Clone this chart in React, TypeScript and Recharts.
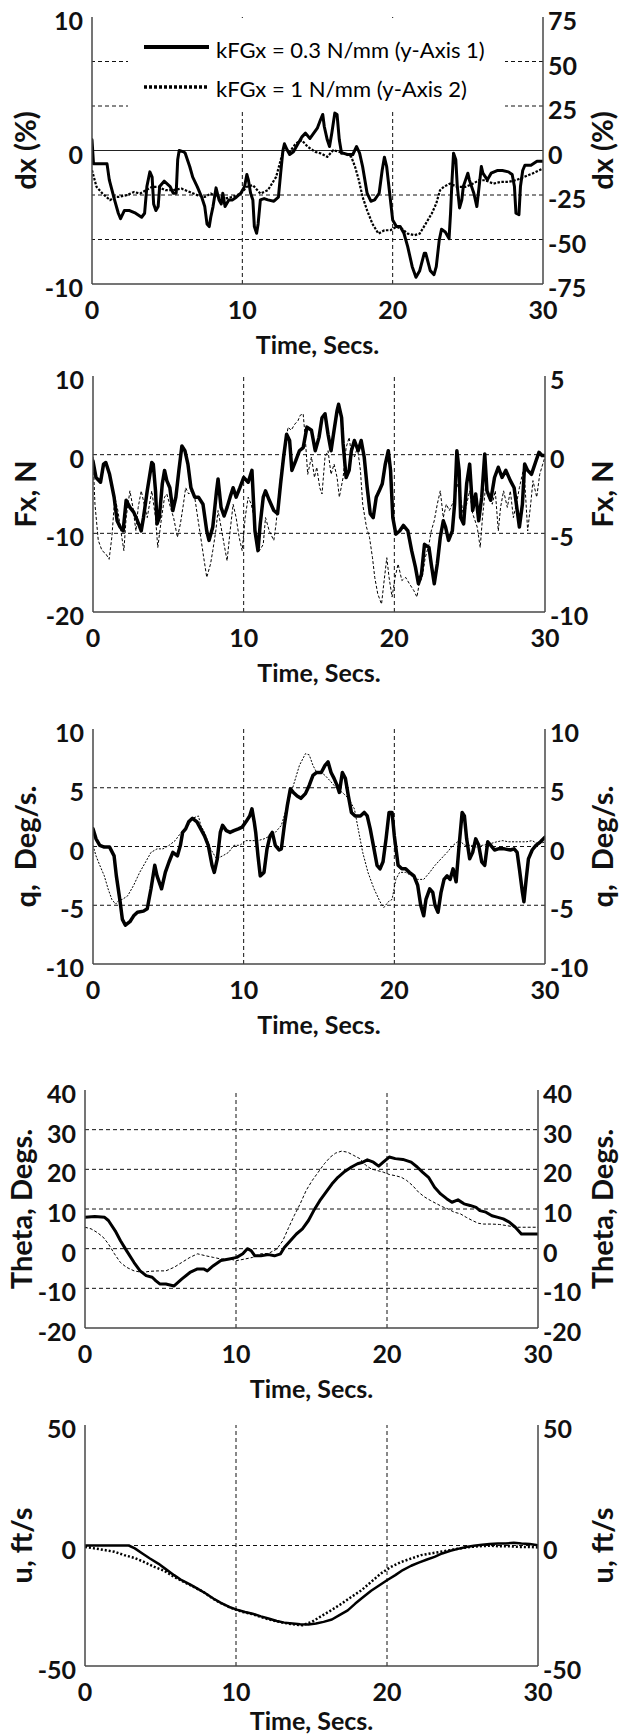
import React from "react";
import { LineChart, Line, XAxis, YAxis, ReferenceLine, Legend, Label } from "recharts";

// ---------- DATA (time in s, value) ----------
const timeTicks = [0, 10, 20, 30];
const verticalGrid = [10, 20];

const legendNames = ["kFGx = 0.3 N/mm (y-Axis 1)", "kFGx = 1 N/mm (y-Axis 2)"];

// Panel 1: dx (%)
const dxTicksLeft = [-10, 0, 10];
const dxTicksRight = [-75, -50, -25, 0, 25, 50, 75];
const dxGridRight = [-50, -25, 25, 50];
const dxK03: number[][] = [
  [0, 0.8], [0.1, -1], [0.3, -1], [1.0, -1], [1.15, -2.2], [1.5, -3.7], [1.75, -4.7], [1.9, -5.1], [2.15, -4.5], [2.5, -4.5],
  [2.9, -4.7], [3.3, -5.0], [3.5, -4.7], [3.65, -2.7], [3.85, -1.6], [4.0, -2.0], [4.1, -4.0], [4.25, -4.5], [4.4, -4.2], [4.5, -2.7],
  [4.8, -2.3], [5.0, -2.5], [5.2, -2.7], [5.4, -3.2], [5.6, -3.2], [5.7, -0.7], [5.8, 0.0], [6.1, -0.1], [6.2, -0.2], [6.5, -1.2],
  [6.7, -2.0], [7.0, -2.7], [7.3, -3.5], [7.5, -4.2], [7.65, -5.5], [7.8, -5.7], [7.9, -5.0], [8.05, -4.2], [8.25, -2.8], [8.45, -3.7],
  [8.6, -4.0], [8.7, -3.2], [8.85, -4.2], [9.1, -3.7], [9.35, -3.7], [9.6, -3.5], [9.9, -3.2], [10.15, -2.7], [10.3, -1.8], [10.4, -2.2],
  [10.55, -3.2], [10.7, -3.7], [10.8, -5.7], [10.95, -6.2], [11.05, -5.5], [11.2, -3.7], [11.45, -3.6], [11.7, -3.7], [12.1, -3.8], [12.4, -3.5],
  [12.55, -1.7], [12.7, 0.0], [12.8, 0.5], [13.0, 0.0], [13.15, -0.3], [13.4, -0.1], [13.7, 0.5], [13.95, 1.0], [14.2, 1.3], [14.5, 0.9],
  [14.75, 1.3], [15.0, 1.7], [15.2, 2.3], [15.35, 2.7], [15.45, 1.8], [15.65, 0.8], [15.8, 0.3], [15.95, 1.3], [16.15, 2.8], [16.3, 2.7],
  [16.45, 0.8], [16.6, -0.2], [16.7, -0.2], [17.0, -0.3], [17.35, -0.3], [17.6, 0.3], [17.8, -0.2], [18.0, -1.2], [18.3, -3.2], [18.55, -3.8],
  [18.8, -3.7], [19.1, -3.2], [19.3, -1.5], [19.45, -0.5], [19.6, -1.2], [19.7, -2.2], [19.85, -3.7], [20.0, -5.2], [20.25, -5.7], [20.5, -5.7],
  [20.75, -6.2], [21.0, -7.2], [21.3, -8.7], [21.55, -9.5], [21.8, -9.0], [22.1, -7.7], [22.2, -7.7], [22.5, -9.0], [22.75, -9.3], [22.9, -8.7],
  [23.1, -6.7], [23.25, -5.9], [23.5, -6.1], [23.75, -6.6], [23.85, -4.7], [23.95, -2.2], [24.05, -0.2], [24.2, -0.7], [24.3, -2.7], [24.45, -4.3],
  [24.6, -3.7], [24.7, -2.7], [24.85, -2.2], [25.0, -1.7], [25.1, -2.2], [25.4, -3.2], [25.6, -4.2], [25.75, -2.7], [25.9, -1.2], [26.0, -1.7],
  [26.3, -2.2], [26.55, -1.7], [26.95, -1.5], [27.3, -1.5], [27.7, -1.6], [27.95, -1.8], [28.1, -2.7], [28.2, -4.7], [28.4, -4.8], [28.5, -2.7],
  [28.65, -1.5], [28.8, -1.1], [29.2, -1.1], [29.6, -0.8], [30, -0.8],
];
const dxK1: number[][] = [
  [0, -11.1], [0.3, -20.4], [0.7, -24.2], [1.2, -27.9], [1.5, -26.1], [1.75, -26.1], [2.3, -25.1], [2.8, -23.3], [3.2, -24.2], [3.6, -22.3],
  [4.0, -20.4], [4.4, -20.4], [4.9, -22.3], [5.4, -22.3], [5.95, -21.4], [6.5, -23.3], [7.0, -25.1], [7.5, -26.1], [7.9, -24.2], [8.3, -26.1],
  [8.85, -27.0], [9.35, -26.1], [9.9, -24.2], [10.3, -20.4], [10.7, -19.5], [11.2, -24.2], [11.7, -22.3], [12.25, -14.8], [12.55, -5.4], [12.8, 2.1],
  [13.15, -0.8], [13.55, 3.9], [13.95, 5.8], [14.35, 2.1], [14.85, -0.8], [15.25, -1.7], [15.65, -3.6], [16.05, 0.2], [16.45, -0.8], [16.85, -1.7],
  [17.25, -3.6], [17.5, -9.2], [17.75, -16.7], [18.0, -26.1], [18.3, -33.6], [18.65, -41.1], [19.05, -46.7], [19.45, -44.8], [19.85, -44.8], [20.25, -42.9],
  [20.6, -43.9], [21.0, -46.7], [21.45, -47.6], [21.8, -46.7], [22.2, -41.1], [22.6, -35.4], [22.9, -29.8], [23.15, -22.3], [23.4, -20.4], [23.8, -18.6],
  [24.3, -20.4], [24.85, -20.4], [25.35, -18.6], [25.75, -16.7], [26.15, -16.7], [26.7, -18.6], [27.2, -17.6], [27.7, -17.6], [28.2, -16.7], [28.75, -14.8],
  [29.3, -12.9], [30, -10.1],
];

// Panel 2: Fx, N
const fxTicksLeft = [-20, -10, 0, 10];
const fxTicksRight = [-10, -5, 0, 5];
const fxGridLeft = [-10, 0];
const fxK03: number[][] = [
  [0, -0.8], [0.2, -2.9], [0.5, -3.5], [0.7, -1.2], [0.85, -1.0], [1.1, -2.5], [1.4, -5.4], [1.6, -8.4], [1.8, -9.2], [2.0, -9.7],
  [2.2, -5.8], [2.45, -6.7], [2.7, -7.3], [2.95, -8.4], [3.2, -9.7], [3.35, -8.0], [3.6, -4.6], [3.9, -1.0], [4.0, -1.2], [4.15, -4.6],
  [4.25, -8.8], [4.4, -8.0], [4.6, -3.7], [4.75, -2.0], [4.9, -3.3], [5.1, -4.2], [5.3, -7.1], [5.5, -5.4], [5.7, -2.0], [5.9, 1.1],
  [6.1, 0.5], [6.3, -1.2], [6.5, -4.2], [6.75, -5.4], [7.0, -5.4], [7.3, -6.3], [7.55, -9.7], [7.7, -10.9], [7.95, -9.2], [8.2, -4.6],
  [8.3, -3.1], [8.5, -6.7], [8.7, -7.8], [8.9, -6.7], [9.1, -5.4], [9.3, -4.2], [9.5, -5.4], [9.75, -4.2], [10.0, -2.9], [10.3, -3.5],
  [10.55, -2.0], [10.75, -9.7], [10.95, -12.2], [11.1, -8.8], [11.3, -5.4], [11.45, -4.6], [11.7, -5.8], [12.0, -7.1], [12.25, -7.5], [12.45, -3.7],
  [12.65, -0.3], [12.85, 2.6], [13.05, 1.8], [13.2, -2.0], [13.45, -0.8], [13.7, 0.5], [13.95, 0.9], [14.2, 3.5], [14.5, 3.1], [14.75, 0.5],
  [15.0, 2.2], [15.2, 4.7], [15.4, 5.2], [15.6, 2.6], [15.8, 0.5], [16.0, 3.1], [16.2, 5.6], [16.3, 6.4], [16.5, 4.7], [16.6, 1.4],
  [16.8, -2.9], [17.0, -2.0], [17.15, 0.5], [17.35, 1.8], [17.6, 0.5], [17.8, 1.8], [18.0, -0.3], [18.2, -4.2], [18.4, -7.5], [18.6, -8.0],
  [18.8, -5.4], [19.0, -4.6], [19.2, -3.7], [19.4, -1.2], [19.6, 0.5], [19.75, -2.0], [19.9, -8.0], [20.1, -10.1], [20.35, -9.7], [20.6, -9.0],
  [20.9, -9.7], [21.15, -12.2], [21.4, -14.3], [21.6, -16.4], [21.8, -15.2], [22.0, -11.4], [22.3, -11.8], [22.45, -13.9], [22.65, -16.4], [22.85, -13.9],
  [23.05, -10.5], [23.25, -8.4], [23.4, -9.2], [23.6, -10.9], [23.85, -9.7], [24.0, -6.3], [24.15, 0.5], [24.3, -2.0], [24.4, -8.0], [24.6, -8.8],
  [24.8, -3.7], [25.0, -1.2], [25.2, -7.1], [25.4, -5.0], [25.6, -8.4], [25.8, -5.4], [26.0, 0.1], [26.15, -4.6], [26.4, -5.8], [26.65, -2.9],
  [26.9, -1.6], [27.15, -2.9], [27.4, -2.0], [27.7, -3.3], [27.95, -4.2], [28.1, -6.3], [28.3, -9.2], [28.5, -6.3], [28.65, -1.2], [28.85, -2.0],
  [29.1, -2.5], [29.4, -0.8], [29.6, 0.3], [29.8, -0.1], [30, -0.1],
];
const fxK1: number[][] = [
  [0, -0.15], [0.13, -3.15], [0.35, -5.45], [0.6, -6.1], [0.85, -6.3], [1.07, -6.65], [1.25, -5.25], [1.45, -2.7], [1.65, -3.55], [1.85, -4.85],
  [2.05, -6.1], [2.2, -4.0], [2.45, -2.3], [2.65, -3.35], [2.85, -4.85], [3.0, -3.35], [3.2, -2.3], [3.4, -3.15], [3.6, -4.0], [3.9, -2.3],
  [4.15, -4.0], [4.3, -5.9], [4.55, -4.0], [4.75, -2.7], [4.9, -2.5], [5.2, -3.55], [5.35, -4.0], [5.6, -5.25], [5.8, -4.4], [6.0, -3.15],
  [6.15, -2.1], [6.35, -2.5], [6.55, -2.3], [6.75, -2.7], [6.95, -4.0], [7.15, -5.25], [7.35, -6.55], [7.55, -7.8], [7.8, -6.95], [7.95, -6.1],
  [8.15, -4.85], [8.3, -3.55], [8.5, -4.6], [8.7, -5.7], [8.9, -6.75], [9.1, -4.85], [9.3, -3.15], [9.5, -4.0], [9.7, -5.25], [9.9, -6.1],
  [10.1, -4.0], [10.3, -2.7], [10.5, -3.15], [10.7, -4.0], [10.85, -5.25], [11.05, -6.1], [11.3, -5.7], [11.45, -4.0], [11.7, -4.85], [12.0, -5.45],
  [12.15, -4.4], [12.4, -1.85], [12.6, -0.15], [12.8, 0.9], [12.95, 1.75], [13.15, 1.55], [13.4, 1.95], [13.6, 2.15], [13.75, 2.5], [13.95, 2.6],
  [14.1, 0.9], [14.25, -1.25], [14.5, -0.15], [14.7, -1.45], [14.85, -0.8], [15.05, -2.1], [15.2, -2.5], [15.4, -0.15], [15.6, 0.25], [15.8, -1.25],
  [16.0, -0.6], [16.2, -1.45], [16.35, -2.7], [16.6, -1.45], [16.8, 0.45], [17.0, 1.1], [17.15, 0.05], [17.35, -0.15], [17.55, 0.45], [17.75, -1.0],
  [17.9, -3.15], [18.15, -4.6], [18.35, -5.25], [18.55, -6.55], [18.7, -7.8], [18.9, -8.85], [19.15, -9.5], [19.3, -8.2], [19.5, -6.55], [19.65, -7.8],
  [19.85, -9.05], [20.05, -7.8], [20.25, -6.95], [20.5, -8.0], [20.75, -7.8], [21.0, -8.2], [21.3, -8.65], [21.5, -9.05], [21.65, -8.2], [21.85, -7.8],
  [22.05, -6.55], [22.3, -5.7], [22.45, -4.85], [22.65, -4.2], [22.85, -3.15], [23.05, -2.3], [23.25, -4.0], [23.45, -3.15], [23.65, -3.55], [23.85, -3.15],
  [24.0, -2.7], [24.2, -1.85], [24.4, -2.7], [24.6, -4.0], [24.8, -3.15], [25.0, -2.3], [25.2, -3.75], [25.5, -4.6], [25.7, -5.9], [25.85, -4.0],
  [26.05, -2.1], [26.25, -2.7], [26.5, -3.15], [26.7, -2.3], [26.9, -4.85], [27.05, -3.35], [27.25, -2.3], [27.5, -3.35], [27.7, -2.3], [27.9, -4.0],
  [28.1, -3.15], [28.3, -2.1], [28.6, -0.8], [28.85, -4.85], [29.05, -3.15], [29.2, -1.65], [29.45, -2.7], [29.65, -1.25], [29.85, -0.6], [30, -0.15],
];

// Panel 3: q, Deg/s
const qTicks = [-10, -5, 0, 5, 10];
const qGrid = [-5, 0, 5];
const qK03: number[][] = [
  [0, 1.5], [0.2, 0.65], [0.45, 0.1], [0.75, -0.05], [1.1, -0.05], [1.4, -0.8], [1.55, -2.5], [1.8, -4.7], [1.95, -6.2], [2.15, -6.7],
  [2.45, -6.4], [2.7, -5.9], [2.95, -5.6], [3.35, -5.5], [3.6, -5.3], [3.85, -3.6], [4.1, -1.6], [4.25, -2.5], [4.55, -3.6], [4.8, -2.2],
  [5.05, -1.3], [5.3, -0.5], [5.6, -0.8], [5.8, 0.1], [5.95, 1.2], [6.15, 1.5], [6.35, 2.1], [6.6, 2.4], [6.9, 2.1], [7.15, 1.5],
  [7.4, 0.9], [7.65, 0.1], [7.9, -1.6], [8.05, -2.2], [8.25, -1.05], [8.45, 1.2], [8.6, 1.8], [8.85, 1.35], [9.1, 1.2], [9.35, 1.35],
  [9.65, 1.5], [9.9, 1.65], [10.15, 2.1], [10.4, 2.6], [10.55, 3.2], [10.7, 2.1], [10.8, 1.2], [10.95, -0.8], [11.1, -2.5], [11.35, -2.2],
  [11.55, -0.2], [11.75, 0.9], [11.9, 1.2], [12.1, 0.1], [12.35, -0.3], [12.5, -0.2], [12.7, 1.8], [12.9, 3.5], [13.1, 4.9], [13.3, 4.6],
  [13.55, 4.3], [13.8, 4.1], [14.1, 4.5], [14.35, 5.2], [14.6, 6.05], [14.85, 6.3], [15.15, 6.3], [15.4, 6.9], [15.6, 7.2], [15.8, 6.3],
  [16.0, 5.8], [16.2, 5.2], [16.35, 4.6], [16.55, 6.3], [16.75, 5.8], [16.95, 4.3], [17.15, 2.9], [17.4, 2.6], [17.75, 2.6], [18.0, 2.9],
  [18.2, 2.6], [18.4, 1.5], [18.65, -0.2], [18.85, -1.6], [19.05, -1.9], [19.25, -1.3], [19.45, 0.65], [19.65, 2.9], [19.85, 2.9], [20.0, 0.9],
  [20.25, -1.6], [20.5, -1.9], [20.75, -1.9], [21.0, -2.2], [21.3, -2.5], [21.55, -3.3], [21.75, -5.0], [21.95, -5.9], [22.1, -4.5], [22.35, -3.6],
  [22.55, -3.9], [22.7, -5.0], [22.9, -5.6], [23.1, -3.9], [23.3, -2.8], [23.5, -2.5], [23.7, -2.8], [23.9, -1.9], [24.1, -3.0], [24.3, 0.1],
  [24.5, 2.9], [24.65, 2.6], [24.8, 0.65], [25.0, -1.05], [25.2, -0.5], [25.4, 0.65], [25.6, 0.1], [25.8, -1.3], [26.0, -1.6], [26.2, 0.4],
  [26.4, 0.1], [26.65, -0.3], [26.9, -0.2], [27.3, -0.2], [27.7, -0.3], [27.95, -0.2], [28.15, -0.5], [28.3, -1.9], [28.5, -3.9], [28.6, -4.7],
  [28.75, -2.8], [28.9, -1.05], [29.15, -0.3], [29.4, 0.1], [29.7, 0.4], [30, 0.8],
];
const qK1: number[][] = [
  [0, 0.1], [0.2, -0.8], [0.45, -1.6], [0.75, -2.5], [1.0, -3.6], [1.25, -4.5], [1.5, -4.9], [1.7, -4.6], [1.95, -4.5], [2.3, -4.2],
  [2.7, -3.3], [3.1, -2.2], [3.5, -1.3], [3.85, -0.5], [4.25, -0.2], [4.65, -0.2], [5.05, 0.1], [5.45, 0.5], [5.85, 1.2], [6.25, 1.65],
  [6.6, 2.4], [7.0, 2.6], [7.15, 1.8], [7.4, 1.2], [7.8, -0.2], [8.2, -1.05], [8.6, -0.8], [9.0, -0.5], [9.35, 0.1], [9.75, 0.1],
  [10.15, 0.5], [10.55, 0.5], [10.95, 0.5], [11.35, 0.65], [11.75, 0.9], [12.1, 1.2], [12.5, 1.8], [12.9, 3.5], [13.3, 5.2], [13.7, 6.9],
  [14.1, 7.9], [14.35, 7.8], [14.6, 6.9], [14.85, 6.3], [15.15, 6.3], [15.4, 6.05], [15.8, 5.5], [16.2, 4.9], [16.55, 4.6], [16.95, 4.1],
  [17.35, 3.2], [17.6, 1.5], [17.9, -0.5], [18.25, -2.2], [18.65, -3.6], [19.05, -4.7], [19.3, -5.2], [19.6, -4.7], [19.85, -4.5], [20.1, -2.8],
  [20.35, -2.2], [20.75, -2.2], [21.15, -2.5], [21.55, -2.8], [21.95, -2.8], [22.35, -2.2], [22.7, -1.6], [23.1, -1.05], [23.5, -0.5], [23.9, 0.1],
  [24.3, 0.5], [24.7, 0.1], [25.1, 0.1], [25.45, -0.05], [25.85, 0.1], [26.25, 0.2], [26.8, 0.4], [27.2, 0.5], [27.55, 0.4], [27.95, 0.4],
  [28.35, 0.4], [28.75, 0.4], [29.15, 0.5], [29.55, 0.2], [30, 0.4],
];

// Panel 4: Theta, Degs.
const thetaTicks = [-20, -10, 0, 10, 20, 30, 40];
const thetaGrid = [-10, 0, 10, 20, 30];
const thetaK03: number[][] = [
  [0, 7.9], [0.65, 8.1], [1.3, 7.9], [1.55, 7.1], [2.0, 4.5], [2.35, 2.0], [2.75, -0.5], [3.25, -3.5], [3.65, -5.6], [4.05, -6.8],
  [4.45, -7.2], [4.7, -8.1], [4.95, -8.9], [5.35, -8.9], [5.9, -9.4], [6.4, -7.7], [6.95, -6.0], [7.45, -5.1], [7.85, -5.1], [8.1, -5.6],
  [8.5, -4.3], [9.0, -3.0], [9.55, -2.6], [10.05, -2.2], [10.45, -1.3], [10.75, 0], [11.0, -0.5], [11.25, -1.8], [11.65, -1.8], [12.15, -1.5],
  [12.55, -1.8], [12.95, -1.3], [13.2, 0.3], [13.6, 2.0], [14.0, 3.7], [14.4, 5.0], [14.8, 7.1], [15.15, 9.6], [15.55, 12.1], [15.95, 14.2],
  [16.35, 16.3], [16.75, 18.0], [17.15, 19.3], [17.65, 20.6], [18.05, 21.4], [18.4, 21.8], [18.7, 22.4], [19.1, 21.8], [19.45, 20.8], [19.75, 21.8],
  [20.15, 23.1], [20.55, 22.7], [21.05, 22.5], [21.6, 21.8], [22.0, 20.6], [22.35, 19.3], [22.75, 18.0], [23.15, 15.5], [23.55, 13.8], [23.95, 12.6],
  [24.3, 11.7], [24.7, 12.3], [25.1, 11.3], [25.5, 10.9], [25.9, 10.4], [26.15, 9.6], [26.55, 9.2], [26.95, 8.3], [27.35, 7.9], [27.7, 7.5],
  [28.1, 6.7], [28.5, 5.4], [28.9, 3.7], [29.3, 3.7], [30, 3.7],
];
const thetaK1: number[][] = [
  [0, 5.4], [0.4, 5.0], [0.8, 4.1], [1.2, 2.9], [1.55, 1.2], [1.95, -1.3], [2.35, -3.5], [2.75, -4.7], [3.25, -5.6], [3.8, -6.0],
  [4.3, -5.7], [4.85, -5.6], [5.35, -5.6], [5.9, -4.7], [6.4, -3.5], [6.95, -2.2], [7.45, -1.3], [8.0, -1.8], [8.5, -2.2], [9.0, -2.6],
  [9.55, -2.6], [10.05, -3.0], [10.6, -2.6], [11.1, -2.2], [11.65, -1.3], [12.15, -1.2], [12.7, -0.1], [13.1, 2.0], [13.45, 5.0], [13.85, 8.3],
  [14.25, 11.3], [14.65, 14.7], [15.05, 17.2], [15.45, 19.3], [15.85, 21.4], [16.25, 23.1], [16.6, 24.1], [17.0, 24.6], [17.4, 24.3], [17.8, 23.5],
  [18.2, 22.7], [18.6, 21.0], [18.95, 20.1], [19.35, 19.7], [19.75, 19.3], [20.15, 18.7], [20.55, 18.4], [20.95, 18.0], [21.3, 17.2], [21.7, 15.9],
  [22.1, 14.2], [22.5, 13.0], [22.9, 12.1], [23.3, 11.3], [23.65, 10.6], [24.05, 10.0], [24.45, 9.2], [24.85, 8.8], [25.25, 7.9], [25.65, 7.1],
  [26.05, 6.4], [26.4, 6.2], [26.95, 6.2], [27.45, 6.1], [27.95, 5.8], [28.5, 5.4], [28.9, 5.4], [29.4, 5.4], [30, 5.4],
];

// Panel 5: u, ft/s
const uTicks = [-50, 0, 50];
const uGrid = [0];
const uK03: number[][] = [
  [0, 0], [1.2, 0], [2.2, 0], [2.9, 0], [3.3, -1.2], [3.8, -3.3], [4.3, -5.4], [4.85, -7.5], [5.35, -9.8], [5.9, -12.3],
  [6.4, -14.4], [6.95, -16.1], [7.45, -17.9], [8.0, -19.9], [8.5, -22.0], [9.0, -23.8], [9.55, -25.5], [10.05, -26.6], [10.6, -27.6], [11.1, -28.3],
  [11.65, -29.4], [12.15, -30.3], [12.7, -31.3], [13.2, -32.0], [13.75, -32.4], [14.25, -32.7], [14.8, -32.8], [15.3, -32.4], [15.8, -31.7], [16.35, -30.7],
  [16.85, -28.9], [17.4, -26.9], [17.9, -24.1], [18.45, -21.3], [18.95, -18.8], [19.5, -16.5], [20.0, -14.4], [20.55, -12.3], [21.05, -10.2], [21.6, -8.4],
  [22.1, -7.1], [22.65, -5.8], [23.15, -4.7], [23.65, -3.3], [24.2, -2.2], [24.7, -1.4], [25.25, -0.6], [25.75, -0.1], [26.3, 0.3], [26.8, 0.6],
  [27.35, 0.8], [27.85, 0.8], [28.4, 1.1], [28.9, 0.8], [29.45, 0.6], [30, 0.1],
];
const uK1: number[][] = [
  [0, -0.6], [0.65, -1.2], [1.3, -1.9], [1.95, -2.6], [2.6, -4.0], [3.25, -5.1], [3.9, -6.8], [4.6, -8.9], [5.25, -10.5], [5.9, -13.0],
  [6.55, -15.1], [7.2, -17.2], [7.85, -19.3], [8.5, -22.2], [9.15, -24.4], [9.8, -26.2], [10.45, -27.6], [11.1, -28.5], [11.75, -29.9], [12.4, -31.0],
  [13.1, -32.0], [13.75, -32.7], [14.4, -33.1], [15.05, -31.6], [15.7, -29.1], [16.35, -26.7], [17.0, -24.1], [17.65, -21.3], [18.3, -18.6], [18.95, -15.1],
  [19.6, -11.6], [20.25, -8.9], [20.95, -6.8], [21.6, -5.4], [22.25, -4.0], [22.9, -3.3], [23.55, -2.6], [24.2, -1.9], [24.85, -1.2], [25.5, -0.6],
  [26.15, -0.3], [26.8, -0.1], [27.45, -0.3], [28.1, -0.3], [28.75, -0.6], [29.4, -0.6], [30, -0.8],
];

// ---------- RENDERING ----------
const W = 619;
const FONT = "Lato, 'Open Sans', sans-serif";
const tickStyle: React.CSSProperties = { fontFamily: FONT, fontWeight: 700, fontSize: 25, fill: "#111" };
const FRAME = "#474747";

const toPts = (arr: number[][]) => arr.map(([t, v]) => ({ t, v }));

const LeftTick = (p: any) => (
  <text x={p.x - 9} y={p.y + 4} dy="0.36em" textAnchor="end" style={tickStyle}>{p.payload.value}</text>
);
const RightTick = (p: any) => (
  <text x={p.x + 5} y={p.y + 4} dy="0.36em" textAnchor="start" style={tickStyle}>{p.payload.value}</text>
);
const BottomTick = (p: any) => (
  <text x={p.x} y={p.y + 26} dy="0.36em" textAnchor="middle" style={tickStyle}>{p.payload.value}</text>
);

type Series = { data: number[][]; axis: "L" | "R"; width: number; dash?: string; name: string };

type PanelProps = {
  plotLeft: number; plotRight: number; plotTop: number; plotBottom: number;
  leftDomain: number[]; leftTicks: number[]; rightDomain: number[]; rightTicks: number[];
  label: string; labelLeftX: number; labelRightX: number; timeOffset?: number;
  gridAxis: "L" | "R"; grid: number[]; zeroSolid?: boolean;
  series: Series[]; legend?: boolean;
};

const MT = 17;
const BOTTOM = 82;

function Panel(props: PanelProps) {
  const { plotLeft, plotRight, plotTop, plotBottom } = props;
  const plotH = plotBottom - plotTop;
  const H = plotH + MT + BOTTOM;
  const chartTop = plotTop - MT;
  const yLabel = (x: number) => (lp: any) => {
    const vb = lp.viewBox || {};
    const cy = (vb.y ?? MT) + (vb.height ?? plotH) / 2;
    return (
      <text x={x} y={cy} transform={`rotate(-90 ${x} ${cy})`} textAnchor="middle" dy="0.36em"
        style={{ fontFamily: FONT, fontWeight: 700, fontSize: 29, fill: "#111", whiteSpace: "pre" }}>
        {props.label}
      </text>
    );
  };
  return (
    <div style={{ position: "absolute", left: 0, top: chartTop, width: W, height: H }}>
      <LineChart width={W} height={H}
        margin={{ top: MT, bottom: BOTTOM - 30, left: plotLeft - 60, right: W - plotRight - 60 }}>
        <XAxis xAxisId="b" dataKey="t" type="number" domain={[0, 30]} ticks={timeTicks} allowDataOverflow
          height={30} tickSize={0} tickMargin={0} tickLine={false} tick={BottomTick}
          axisLine={{ stroke: FRAME, strokeWidth: 1.5 }}>
          <Label position="bottom" offset={props.timeOffset ?? 22} value="Time, Secs."
            style={{ fontFamily: FONT, fontWeight: 700, fontSize: 25, fill: "#111" }} />
        </XAxis>
        <XAxis xAxisId="top" orientation="top" dataKey="t" type="number" domain={[0, 30]} height={0}
          tick={false} tickLine={false} axisLine={{ stroke: FRAME, strokeWidth: 1.5 }} />
        <YAxis yAxisId="L" orientation="left" type="number" domain={props.leftDomain} ticks={props.leftTicks}
          allowDataOverflow width={60} tickSize={0} tickMargin={0} tickLine={false} tick={LeftTick} interval={0}
          axisLine={{ stroke: FRAME, strokeWidth: 1.5 }}>
          <Label content={yLabel(props.labelLeftX)} />
        </YAxis>
        <YAxis yAxisId="R" orientation="right" type="number" domain={props.rightDomain} ticks={props.rightTicks}
          allowDataOverflow width={60} tickSize={0} tickMargin={0} tickLine={false} tick={RightTick} interval={0}
          axisLine={{ stroke: FRAME, strokeWidth: 1.5 }}>
          <Label content={yLabel(props.labelRightX)} />
        </YAxis>
        {props.grid.map((g) => (
          <ReferenceLine key={"h" + g} xAxisId="b" yAxisId={props.gridAxis} y={g} stroke="#111" strokeWidth={1}
            strokeDasharray="4 3" />
        ))}
        {props.zeroSolid && (
          <ReferenceLine xAxisId="b" yAxisId="L" y={0} stroke="#222" strokeWidth={1.2} />
        )}
        {verticalGrid.map((g) => (
          <ReferenceLine key={"v" + g} xAxisId="b" yAxisId="L" x={g} stroke="#111" strokeWidth={1}
            strokeDasharray="4 3" />
        ))}
        {props.series.map((s, i) => (
          <Line key={i} xAxisId="b" yAxisId={s.axis} data={toPts(s.data)} dataKey="v" name={s.name}
            type="linear" dot={false} activeDot={false} isAnimationActive={false}
            stroke="#000" strokeWidth={s.width} strokeDasharray={s.dash}
            strokeLinejoin="round" strokeLinecap={s.dash ? "butt" : "round"} />
        ))}
        {props.legend && (
          <Legend layout="vertical" align="center" verticalAlign="middle"
            wrapperStyle={{ position: "absolute", left: 128, top: 18 - chartTop, width: 377, height: 92, margin: 0, padding: 0 }}
            content={() => (
              <div style={{ position: "relative", width: 377, height: 92, background: "#fff" }}>
                <svg width={377} height={92} style={{ position: "absolute", left: 0, top: 0 }}>
                  <line x1={16} x2={81} y1={29} y2={29} stroke="#000" strokeWidth={4} />
                  <line x1={16} x2={81} y1={69} y2={69} stroke="#000" strokeWidth={3.5} strokeDasharray="3 2" />
                </svg>
                {legendNames.map((n, i) => (
                  <span key={n} style={{
                    position: "absolute", left: 88, top: (i === 0 ? 32 : 71) - 13, lineHeight: "26px",
                    fontFamily: FONT, fontSize: 22, color: "#000", whiteSpace: "nowrap",
                  }}>{n}</span>
                ))}
              </div>
            )} />
        )}
      </LineChart>
    </div>
  );
}

export default function App() {
  return (
    <div style={{ position: "absolute", left: 0, top: 0, width: W, height: 1735, background: "#fff", overflow: "hidden" }}>
      <Panel plotLeft={92} plotRight={543} plotTop={17} plotBottom={284}
        leftDomain={[-10, 10]} leftTicks={dxTicksLeft} rightDomain={[-75, 75]} rightTicks={dxTicksRight}
        label="dx (%)" labelLeftX={26} labelRightX={603}
        gridAxis="R" grid={dxGridRight} zeroSolid legend
        series={[
          { data: dxK03, axis: "L", width: 3, name: legendNames[0] },
          { data: dxK1, axis: "R", width: 2.2, dash: "2.5 1.5", name: legendNames[1] },
        ]} />
      <Panel plotLeft={93} plotRight={545} plotTop={376} plotBottom={612}
        leftDomain={[-20, 10]} leftTicks={fxTicksLeft} rightDomain={[-10, 5]} rightTicks={fxTicksRight}
        label="Fx, N" labelLeftX={26} labelRightX={603}
        gridAxis="L" grid={fxGridLeft}
        series={[
          { data: fxK03, axis: "L", width: 3.5, name: legendNames[0] },
          { data: fxK1, axis: "R", width: 1, dash: "3 2", name: legendNames[1] },
        ]} />
      <Panel plotLeft={93} plotRight={545} plotTop={729} plotBottom={964}
        leftDomain={[-10, 10]} leftTicks={qTicks} rightDomain={[-10, 10]} rightTicks={qTicks}
        label={"q,\u00a0 Deg/s."} labelLeftX={26} labelRightX={603}
        gridAxis="L" grid={qGrid}
        series={[
          { data: qK03, axis: "L", width: 3.5, name: legendNames[0] },
          { data: qK1, axis: "R", width: 1, dash: "2 1.5", name: legendNames[1] },
        ]} />
      <Panel plotLeft={85} plotRight={538} plotTop={1090} plotBottom={1328}
        leftDomain={[-20, 40]} leftTicks={thetaTicks} rightDomain={[-20, 40]} rightTicks={thetaTicks}
        label="Theta, Degs." labelLeftX={22} labelRightX={603}
        gridAxis="L" grid={thetaGrid}
        series={[
          { data: thetaK03, axis: "L", width: 3, name: legendNames[0] },
          { data: thetaK1, axis: "R", width: 1, dash: "3 2", name: legendNames[1] },
        ]} />
      <Panel plotLeft={85} plotRight={538} plotTop={1425} plotBottom={1666} timeOffset={16}
        leftDomain={[-50, 50]} leftTicks={uTicks} rightDomain={[-50, 50]} rightTicks={uTicks}
        label="u, ft/s" labelLeftX={22} labelRightX={603}
        gridAxis="L" grid={uGrid}
        series={[
          { data: uK03, axis: "L", width: 2.5, name: legendNames[0] },
          { data: uK1, axis: "R", width: 2.5, dash: "2 2", name: legendNames[1] },
        ]} />
    </div>
  );
}
